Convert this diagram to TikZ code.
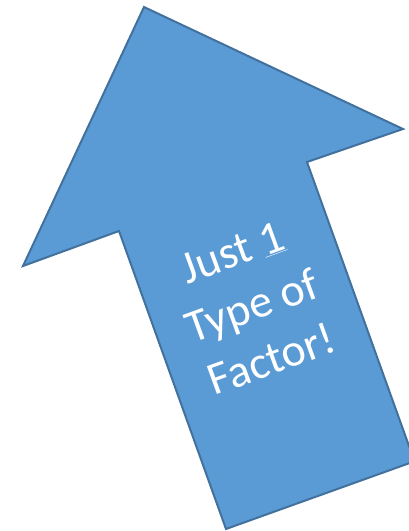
\documentclass[tikz,border=0pt]{standalone}
\usepackage{fontspec}
\setmainfont{Carlito}
\definecolor{arrowblue}{HTML}{5B9BD5}
\definecolor{arrowedge}{HTML}{41719C}

\begin{document}
\begin{tikzpicture}[
  x=1pt,y=-1pt,
  bigarrow/.style={fill=arrowblue, draw=arrowedge, line width=2pt, line join=miter},
  bodytext/.style={align=center, text=white, font=\fontsize{46}{57}\selectfont, inner sep=0pt}
]
\useasboundingbox (0,0) rectangle (409,531);
\clip (0,0) rectangle (409,531);
% the rotated block arrow
\draw[bigarrow] (144,7) -- (403,129) -- (307,162) -- (414.5,461.3) -- (226,529) -- (119,231) -- (23,266) -- cycle;
\node[bodytext, rotate=20] (caption) at (252,306) {Just \underline{1}\\Type of\\Factor!};
\end{tikzpicture}
\end{document}
